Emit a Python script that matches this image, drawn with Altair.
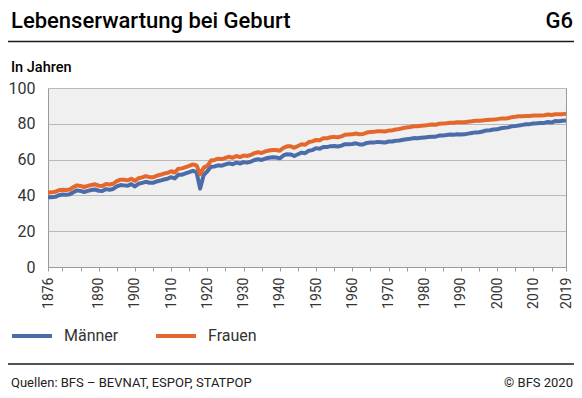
import altair as alt
import pandas as pd

YEARS = list(range(1876, 2020))

MAENNER = [
    38.9, 39.0, 39.2, 40.1,
    40.5, 40.3, 40.6, 41.8, 42.8, 42.5, 41.9, 42.5, 43.0, 43.3,
    42.6, 42.5, 43.5, 43.2, 43.6, 45.0, 45.8, 45.6, 45.4, 46.3,
    45.0, 46.5, 47.0, 47.6, 47.1, 47.0, 47.8, 48.3, 48.9, 49.3,
    50.2, 49.5, 51.5, 51.6, 52.3, 53.0, 53.7, 53.0, 43.8, 51.5,
    53.5, 56.0, 56.2, 56.8, 56.6, 57.3, 57.9, 57.4, 58.3, 57.8,
    58.6, 58.3, 58.9, 59.8, 60.2, 59.8, 60.6, 61.0, 61.3, 61.2,
    60.7, 62.3, 63.0, 62.9, 62.0, 63.0, 63.9, 63.6, 65.0, 65.3,
    66.4, 66.0, 67.1, 67.0, 67.5, 67.6, 67.3, 67.8, 68.6, 68.6,
    68.7, 69.1, 68.5, 68.5, 69.3, 69.5, 69.5, 69.9, 69.7, 69.5,
    70.1, 70.1, 70.5, 70.7, 71.1, 71.4, 71.6, 72.0, 71.9, 72.2,
    72.4, 72.6, 72.8, 72.8, 73.4, 73.5, 73.7, 74.0, 73.9, 74.1,
    74.0, 74.1, 74.5, 74.9, 75.2, 75.3, 75.7, 76.3, 76.4, 76.8,
    76.9, 77.5, 77.8, 78.0, 78.6, 78.7, 79.1, 79.4, 79.7, 79.8,
    80.2, 80.3, 80.5, 80.5, 81.0, 80.7, 81.5, 81.4, 81.7, 81.9,
]

FRAUEN = [
    41.6, 41.7, 42.0, 42.9,
    43.2, 43.0, 43.3, 44.6, 45.6, 45.3, 44.7, 45.3, 45.8, 46.2,
    45.4, 45.3, 46.4, 46.1, 46.5, 48.0, 48.8, 48.7, 48.4, 49.3,
    48.1, 49.6, 50.1, 50.8, 50.2, 50.1, 51.0, 51.5, 52.2, 52.6,
    53.5, 52.8, 54.9, 55.1, 55.8, 56.5, 57.3, 56.8, 51.8, 55.5,
    56.5, 59.5, 59.8, 60.5, 60.3, 61.0, 61.6, 61.0, 62.0, 61.4,
    62.3, 62.0, 62.6, 63.6, 64.1, 63.7, 64.6, 65.1, 65.4, 65.4,
    64.9, 66.6, 67.4, 67.4, 66.6, 67.6, 68.6, 68.3, 69.8, 70.2,
    71.0, 70.8, 71.9, 71.9, 72.5, 72.7, 72.5, 73.0, 73.9, 74.0,
    74.1, 74.6, 74.2, 74.3, 75.1, 75.4, 75.5, 75.9, 75.8, 75.7,
    76.2, 76.3, 76.8, 77.1, 77.6, 77.9, 78.2, 78.6, 78.6, 78.9,
    79.1, 79.3, 79.6, 79.5, 80.0, 80.1, 80.3, 80.6, 80.6, 80.9,
    80.8, 80.9, 81.2, 81.4, 81.7, 81.7, 81.9, 82.1, 82.3, 82.4,
    82.6, 82.9, 83.0, 83.1, 83.7, 83.9, 84.2, 84.2, 84.4, 84.4,
    84.6, 84.7, 84.7, 84.8, 85.2, 84.9, 85.3, 85.4, 85.4, 85.6,
]

SERIES = ["Männer", "Frauen"]
COLORS = ["#4b6ca8", "#e4682c"]
TICK_VALUES = [1876] + list(range(1880, 2016, 5)) + [2019]
LABELLED = [1876, 1890, 1900, 1910, 1920, 1930, 1940, 1950, 1960, 1970,
            1980, 1990, 2000, 2010, 2019]
Y_TICKS = [0, 20, 40, 60, 80, 100]

TITLE = "Lebenserwartung bei Geburt"
CODE = "G6"
UNIT = "In Jahren"
SOURCE = "Quellen: BFS – BEVNAT, ESPOP, STATPOP"
COPY = "© BFS 2020"

FONT = "Roboto"

df = pd.concat([
    pd.DataFrame({"Jahr": YEARS, "Wert": MAENNER, "Geschlecht": SERIES[0]}),
    pd.DataFrame({"Jahr": YEARS, "Wert": FRAUEN, "Geschlecht": SERIES[1]}),
])

label_expr = "indexof([" + ",".join(str(v) for v in LABELLED) + "], datum.value) >= 0 ? datum.label : ''"

lines = alt.Chart(df).mark_line(strokeWidth=4, strokeJoin="round").encode(
    x=alt.X("Jahr:Q",
            scale=alt.Scale(domain=[1876, 2019], nice=False, zero=False),
            axis=alt.Axis(title=None, values=TICK_VALUES, format="d",
                          labelExpr=label_expr, labelAngle=-90, labelAlign="right",
                          labelBaseline="middle", labelFontSize=14, labelColor="#333333",
                          labelFont=FONT, labelPadding=6, labelOverlap=False,
                          labelFlush=False, labelBound=False,
                          tickSize=4, tickColor="#9a9a9a", domainColor="#9a9a9a",
                          grid=False)),
    y=alt.Y("Wert:Q",
            scale=alt.Scale(domain=[0, 100], nice=False),
            axis=alt.Axis(title=None, values=Y_TICKS, labelFontSize=16,
                          labelColor="#333333", labelFont=FONT, labelPadding=13,
                          ticks=False, domain=False, gridColor="#b9b9b9",
                          gridWidth=1)),
    color=alt.Color("Geschlecht:N",
                    scale=alt.Scale(domain=SERIES, range=COLORS),
                    sort=SERIES,
                    legend=alt.Legend(title=None, orient="none", direction="horizontal",
                                      legendX=-38, legendY=226,
                                      symbolType="stroke", symbolSize=1600,
                                      symbolStrokeWidth=4, labelFontSize=16,
                                      labelFont=FONT, labelColor="#333333",
                                      labelOffset=10, columnPadding=29)),
)

one = alt.Data(values=[{}])

def txt(text, x, y, size, weight="normal", align="left", color="#000000"):
    return alt.Chart(one).mark_text(
        text=text, font=FONT, fontSize=size, fontWeight=weight, align=align,
        baseline="alphabetic", color=color,
    ).encode(x=alt.value(x), y=alt.value(y))

def hrule(y, x1, x2, w=1.5):
    return alt.Chart(one).mark_rule(color="#1a1a1a", strokeWidth=w).encode(
        x=alt.value(x1), x2=alt.value(x2), y=alt.value(y))

deco = [
    txt(TITLE, -37, -60, 22, 500),
    txt(CODE, 525, -60, 22, 500, align="right"),
    hrule(-46.5, -40, 526),
    txt(UNIT, -37, -16, 14.5, 500),
    hrule(276, -40, 526),
    txt(SOURCE, -37, 299, 13, color="#222222"),
    txt(COPY, 525, 299, 13, align="right", color="#222222"),
]

chart = alt.layer(lines, *deco).properties(
    width=518, height=179,
    autosize=alt.AutoSizeParams(type="none"),
    padding={"left": 40, "top": 80, "right": 8, "bottom": 123},
    background="#ffffff",
).configure_view(fill="#f0f0f0", stroke="#9a9a9a", strokeWidth=1)

chart.save("out.html", embed_options={"renderer": "svg", "actions": False})
